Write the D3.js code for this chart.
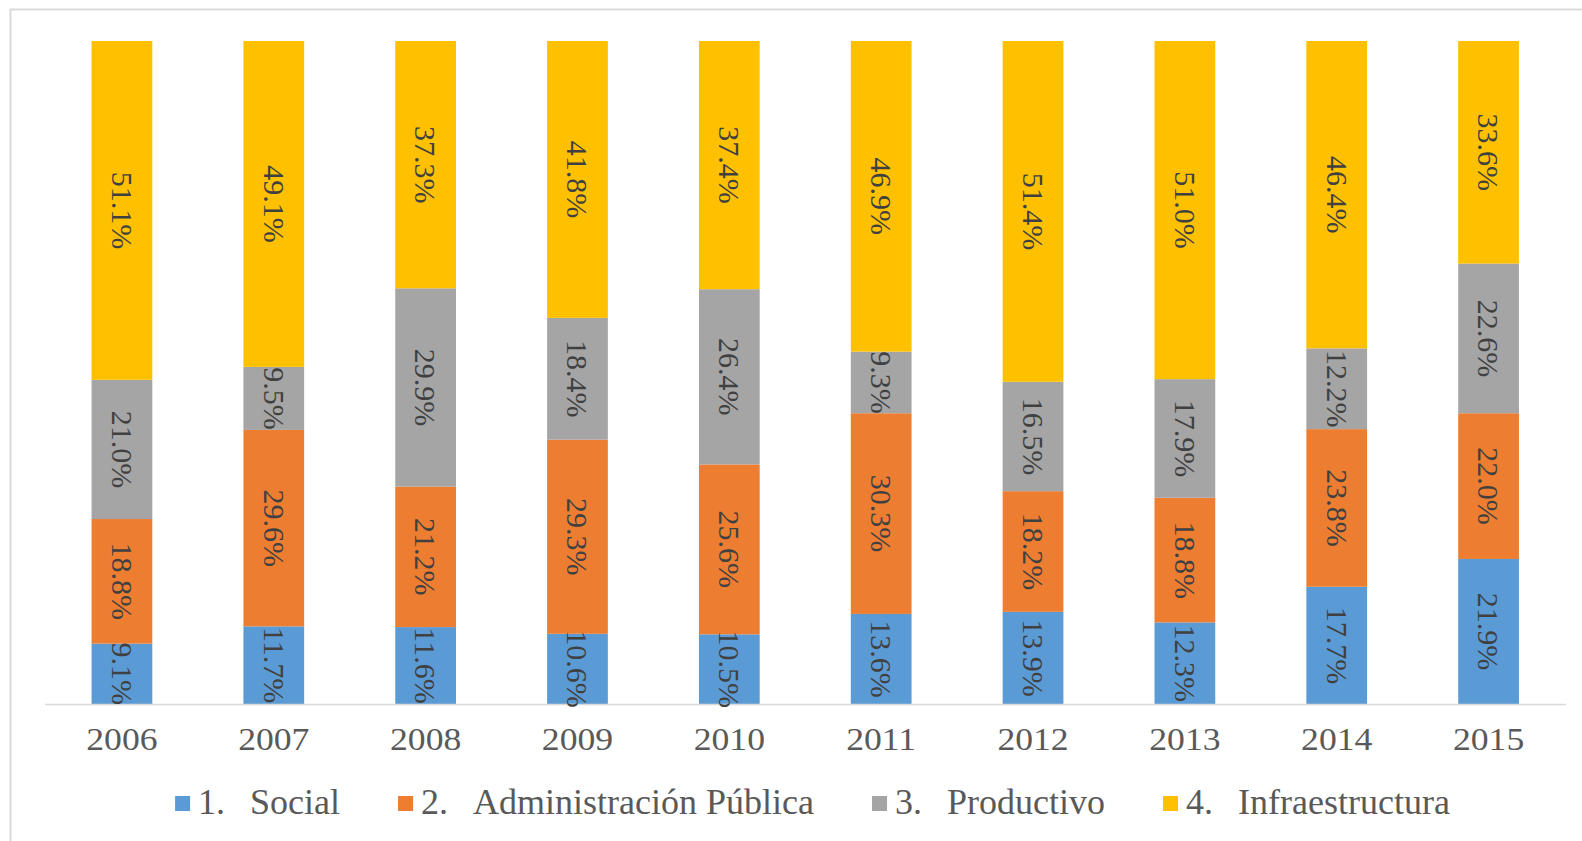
<!DOCTYPE html>
<html>
<head>
<meta charset="utf-8">
<script src="https://cdn.jsdelivr.net/npm/d3@7"></script>
</head>
<body style="margin:0">
<svg id="chart" width="1582" height="841"></svg>
<script>
const years = ["2006","2007","2008","2009","2010","2011","2012","2013","2014","2015"];
const seriesNumbers = ["1.", "2.", "3.", "4."];
const seriesNames = ["Social", "Administración Pública", "Productivo", "Infraestructura"];
const social          = [9.1, 11.7, 11.6, 10.6, 10.5, 13.6, 13.9, 12.3, 17.7, 21.9];
const administracion  = [18.8, 29.6, 21.2, 29.3, 25.6, 30.3, 18.2, 18.8, 23.8, 22.0];
const productivo      = [21.0, 9.5, 29.9, 18.4, 26.4, 9.3, 16.5, 17.9, 12.2, 22.6];
const infraestructura = [51.1, 49.1, 37.3, 41.8, 37.4, 46.9, 51.4, 51.0, 46.4, 33.6];
const colors = ["#5B9BD5", "#ED7D31", "#A5A5A5", "#FFC000"];

const keys = ["s0","s1","s2","s3"];
const allSeries = [social, administracion, productivo, infraestructura];
const table = years.map((yr, i) => {
  const row = { year: yr };
  keys.forEach((k, j) => row[k] = allSeries[j][i]);
  return row;
});

const svg = d3.select("#chart");

// outer frame
svg.append("path")
  .attr("d", "M10.5,845 L10.5,9.5 L1590,9.5")
  .attr("fill", "none").attr("stroke", "#d9d9d9").attr("stroke-width", 2);

const x = d3.scaleBand().domain(years).range([46, 1564.5]).paddingInner(0.6).paddingOuter(0.3);
const y = d3.scaleLinear().domain([0, 1]).range([704, 41]);

const stacked = d3.stack().keys(keys).offset(d3.stackOffsetExpand)(table);

svg.append("g").selectAll("g").data(stacked).join("g")
  .attr("fill", (d, i) => colors[i])
  .selectAll("rect").data(d => d).join("rect")
  .attr("x", d => x(d.data.year))
  .attr("width", x.bandwidth())
  .attr("y", d => y(d[1]))
  .attr("height", d => y(d[0]) - y(d[1]));

// baseline
svg.append("line").attr("x1", 45).attr("x2", 1566).attr("y1", 704.5).attr("y2", 704.5)
  .attr("stroke", "#d9d9d9").attr("stroke-width", 1.5);

// year labels (from the band scale)
svg.append("g").selectAll("text").data(years).join("text")
  .attr("transform", d => `translate(${x(d) + x.bandwidth()/2},750) scale(1.15,1)`)
  .attr("text-anchor", "middle")
  .attr("font-family", "Liberation Serif")
  .attr("font-size", 31)
  .attr("fill", "#595959")
  .text(d => d);

// data labels
const labels = svg.append("g");
stacked.forEach((s, i) => {
  labels.selectAll(null).data(s).join("text")
    .attr("transform", d => `translate(${x(d.data.year) + x.bandwidth()/2},${(y(d[0]) + y(d[1]))/2}) rotate(90)`)
    .attr("text-anchor", "middle")
    .attr("dy", "0.34em")
    .attr("font-family", "Liberation Serif")
    .attr("font-size", 30)
    .attr("fill", "#404040")
    .text(d => d.data[keys[i]].toFixed(1) + "%");
});

// legend
const legend = svg.append("g");
let cursor = 0;
seriesNames.forEach((lab, i) => {
  legend.append("rect").attr("x", cursor).attr("y", -7).attr("width", 15).attr("height", 15).attr("fill", colors[i]);
  legend.append("text").attr("x", cursor + 23).attr("y", 11)
    .attr("font-family", "Liberation Serif").attr("font-size", 36)
    .attr("fill", "#595959").text(seriesNumbers[i]);
  const t2 = legend.append("text").attr("x", cursor + 75).attr("y", 11)
    .attr("font-family", "Liberation Serif").attr("font-size", 36)
    .attr("fill", "#595959").text(lab);
  cursor += 75 + t2.node().getComputedTextLength() + 58;
});
const totalW = cursor - 58;
legend.attr("transform", `translate(${812.5 - totalW/2},803)`);
</script>
</body>
</html>
